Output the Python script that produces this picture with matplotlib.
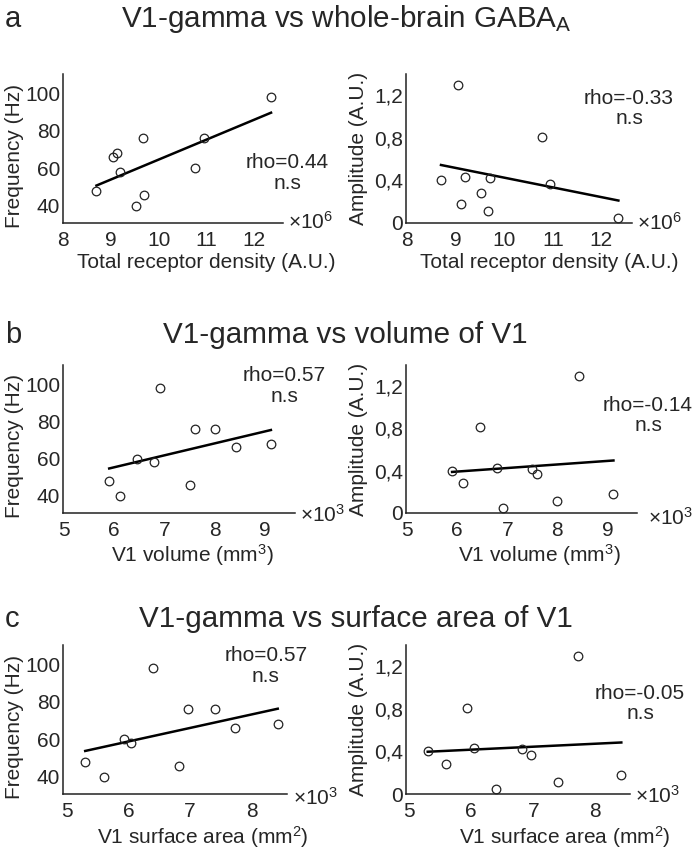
import numpy as np
import matplotlib
matplotlib.use("Agg")
import matplotlib.pyplot as plt

plt.rcParams['font.family'] = ['Liberation Sans', 'DejaVu Sans']
plt.rcParams['mathtext.default'] = 'regular'

# ---- data ----
freq = [48, 66, 68, 58, 40, 76, 46, 60, 76, 98]
amp = [0.40, 1.30, 0.18, 0.43, 0.28, 0.11, 0.42, 0.81, 0.37, 0.05]
density = [8.70, 9.05, 9.12, 9.20, 9.52, 9.67, 9.70, 10.77, 10.95, 12.35]   # x10^6
volume = [5.90, 8.43, 9.12, 6.80, 6.12, 8.00, 7.50, 6.45, 7.60, 6.92]       # x10^3
area = [5.30, 7.72, 8.42, 6.05, 5.60, 7.40, 6.82, 5.93, 6.97, 6.40]         # x10^3

freq_ticks = [40, 60, 80, 100]
amp_ticks = [0, 0.4, 0.8, 1.2]
amp_ticklabels = ["0", "0,4", "0,8", "1,2"]
density_ticks = [8, 9, 10, 11, 12]
volume_ticks = [5, 6, 7, 8, 9]
area_ticks = [5, 6, 7, 8]

rho_text = {"a_f": "rho=0.44\nn.s", "a_a": "rho=-0.33\nn.s",
            "b_f": "rho=0.57\nn.s", "b_a": "rho=-0.14\nn.s",
            "c_f": "rho=0.57\nn.s", "c_a": "rho=-0.05\nn.s"}

titles = ["V1-gamma vs whole-brain GABA$_A$", "V1-gamma vs volume of V1",
          "V1-gamma vs surface area of V1"]
letters = ["a", "b", "c"]
xlabels = ["Total receptor density (A.U.)", "V1 volume (mm$^3$)",
           "V1 surface area (mm$^2$)"]
exps = ["6", "3", "3"]

W, H = 697, 850
fig = plt.figure(figsize=(W / 100, H / 100), dpi=100)

TXT = '#262626'
FS = 15


def px_axes(l, r, t, b):
    return fig.add_axes([l / W, 1 - b / H, (r - l) / W, (b - t) / H])


# panel geometry in pixels (left, right, top, bottom)
geo = {
    "a_f": (63, 283, 74, 223), "a_a": (406, 632, 74, 223),
    "b_f": (63, 295, 365, 513), "b_a": (406, 637, 365, 513),
    "c_f": (63, 287, 645, 794), "c_a": (406, 630, 645, 794),
}
xl = {"a_f": (8, 12.6), "a_a": (7.98, 12.63), "b_f": (4.98, 9.6),
      "b_a": (4.98, 9.59), "c_f": (4.94, 8.57), "c_a": (4.95, 8.56)}
rho_pos = {"a_f": (1.02, 0.336), "a_a": (0.987, 0.768), "b_f": (0.953, 0.858),
           "b_a": (1.048, 0.659), "c_f": (0.906, 0.859), "c_a": (1.045, 0.607)}
xlab_pos = {"a_f": 0.65, "a_a": 0.633, "b_f": 0.556, "b_a": 0.576,
            "c_f": 0.625, "c_a": 0.71}
exp_pos = {"a_f": (1.023, -0.04), "a_a": (1.022, -0.047), "b_f": (1.022, -0.06),
           "b_a": (1.048, -0.081), "c_f": (1.027, -0.074), "c_a": (1.022, -0.06)}

xdata = {"a": density, "b": volume, "c": area}
xticks = {"a": density_ticks, "b": volume_ticks, "c": area_ticks}

for i, p in enumerate(["a", "b", "c"]):
    for kind in ["f", "a"]:
        key = f"{p}_{kind}"
        ax = px_axes(*geo[key])
        x = np.array(xdata[p])
        y = np.array(freq if kind == "f" else amp)
        ax.plot(x, y, 'o', mfc='none', mec='#222222', ms=6.2, mew=0.9, zorder=3)
        k, c0 = np.polyfit(x, y, 1)
        xs = np.array([x.min(), x.max()])
        ax.plot(xs, k * xs + c0, color='black', lw=1.8, zorder=2)
        ax.set_xlim(*xl[key])
        ax.set_xticks(xticks[p])
        ax.set_xticklabels([str(t) for t in xticks[p]])
        w = geo[key][1] - geo[key][0]
        if kind == "f":
            ax.set_ylim(30.8, 110.3)
            ax.set_yticks(freq_ticks)
            ax.set_yticklabels([str(t) for t in freq_ticks])
            ax.set_ylabel("Frequency (Hz)", fontsize=FS, color=TXT)
            ax.yaxis.set_label_coords((24 - 63) / w, 0.45)
        else:
            ax.set_ylim(0, 1.4)
            ax.set_yticks(amp_ticks)
            ax.set_yticklabels(amp_ticklabels)
            ax.set_ylabel("Amplitude (A.U.)", fontsize=FS, color=TXT)
            ax.yaxis.set_label_coords((368 - 406) / w, 0.5)
        for s in ['top', 'right']:
            ax.spines[s].set_visible(False)
        for s in ['left', 'bottom']:
            ax.spines[s].set_linewidth(1.1)
            ax.spines[s].set_color('#222222')
        ax.tick_params(length=0, labelsize=FS, colors=TXT)
        ax.tick_params(axis='x', pad=6)
        ax.tick_params(axis='y', pad=2)
        ax.set_xlabel(xlabels[i], fontsize=FS, color=TXT)
        ax.xaxis.set_label_coords(xlab_pos[key], -0.2)
        ax.text(*rho_pos[key], rho_text[key], transform=ax.transAxes,
                ha='center', va='center', fontsize=FS, color=TXT,
                linespacing=1.1)
        ax.text(*exp_pos[key], r"$\times10^{%s}$" % exps[i],
                transform=ax.transAxes, ha='left', va='baseline',
                fontsize=FS, color=TXT)
        ax.patch.set_alpha(0)

title_y = [27, 343, 627]
title_x = [346, 345, 356]
for t, l, yb, xc in zip(titles, letters, title_y, title_x):
    fig.text(5 / W, 1 - yb / H, l, fontsize=21, color=TXT, va='baseline')
    fig.text(xc / W, 1 - yb / H, t, fontsize=21.3, color=TXT, va='baseline',
             ha='center')

fig.savefig("out.png", dpi=100)
